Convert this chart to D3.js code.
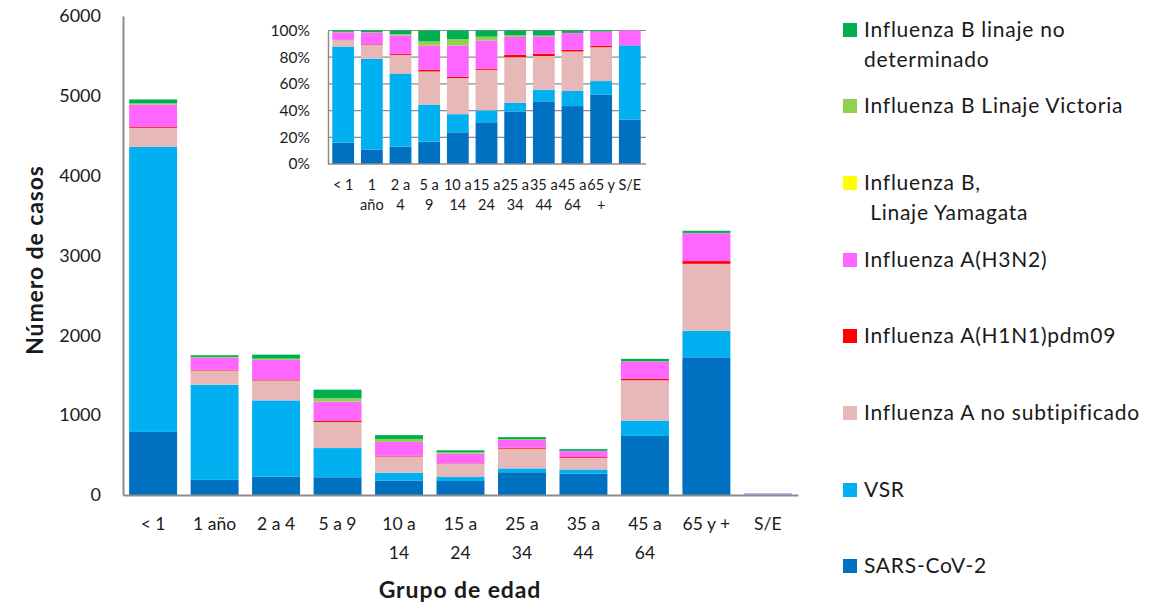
<!DOCTYPE html>
<html>
<head>
<meta charset="utf-8">
<script src="https://cdn.jsdelivr.net/npm/d3@7"></script>
<style>
  html, body { margin: 0; padding: 0; background: #fff; }
  svg { display: block; font-family: Lato, "Liberation Sans", sans-serif; }
</style>
</head>
<body>
<svg id="chart" width="1150" height="603"></svg>
<script>
// Age groups (two-line labels split on "|")
const categories = ["< 1", "1 año", "2 a 4", "5 a 9", "10 a|14", "15 a|24", "25 a|34", "35 a|44", "45 a|64", "65 y +", "S/E"];
const insetLabels = ["< 1", "1|año", "2 a|4", "5 a|9", "10 a|14", "15 a|24", "25 a|34", "35 a|44", "45 a|64", "65 y|+", "S/E"];

// Cases per age group, one array per virus (stack order bottom → top)
const sarsCov2   = [790, 190, 230, 222, 178, 175, 285, 270, 740, 1725, 3];
const vsr        = [3570, 1190, 955, 366, 102, 50, 48, 50, 192, 331, 5];
const fluANoSub  = [240, 180, 250, 327, 203, 170, 247, 145, 505, 840, 0];
const fluAH1N1   = [10, 8, 12, 18, 7, 4, 13, 10, 21, 34, 0];
const fluAH3N2   = [280, 154, 246, 237, 176, 119, 97, 75, 214, 350, 1];
const fluBYam    = [0, 0, 0, 0, 0, 0, 0, 0, 0, 0, 0];
const fluBVic    = [15, 6, 15, 42, 36, 16, 10, 3, 2, 3, 0];
const fluBNoDet  = [50, 22, 50, 108, 48, 26, 25, 22, 31, 27, 0];

const yTicks = [0, 1000, 2000, 3000, 4000, 5000, 6000];
const pctTicks = [0, 0.2, 0.4, 0.6, 0.8, 1];

const series = [
  { key: "SARS-CoV-2", values: sarsCov2, color: "#0070C0" },
  { key: "VSR", values: vsr, color: "#00B0F0" },
  { key: "Influenza A no subtipificado", values: fluANoSub, color: "#E6B9B8" },
  { key: "Influenza A(H1N1)pdm09", values: fluAH1N1, color: "#FF0000" },
  { key: "Influenza A(H3N2)", values: fluAH3N2, color: "#FF66FF" },
  { key: "Influenza B, Linaje Yamagata", values: fluBYam, color: "#FFFF00" },
  { key: "Influenza B Linaje Victoria", values: fluBVic, color: "#92D050" },
  { key: "Influenza B linaje no determinado", values: fluBNoDet, color: "#00B050" }
];

// Legend lines (top → bottom), with the wrapping used in the key
const legendLines = [
  { key: "Influenza B linaje no determinado", lines: ["Influenza B linaje no", "determinado"] },
  { key: "Influenza B Linaje Victoria", lines: ["Influenza B Linaje Victoria"] },
  { key: "Influenza B, Linaje Yamagata", lines: ["Influenza B,", "\u00a0Linaje Yamagata"] },
  { key: "Influenza A(H3N2)", lines: ["Influenza A(H3N2)"] },
  { key: "Influenza A(H1N1)pdm09", lines: ["Influenza A(H1N1)pdm09"] },
  { key: "Influenza A no subtipificado", lines: ["Influenza A no subtipificado"] },
  { key: "VSR", lines: ["VSR"] },
  { key: "SARS-CoV-2", lines: ["SARS-CoV-2"] }
];

const rows = categories.map((c, i) => {
  const r = { cat: c };
  series.forEach(s => r[s.key] = s.values[i]);
  return r;
});
const keys = series.map(s => s.key);
const color = d3.scaleOrdinal().domain(keys).range(series.map(s => s.color));

const svg = d3.select("#chart");
const textColor = "#1a1a1a";
const axisColor = "#8c8c8c";

// ---------- Main stacked bar chart ----------
const x = d3.scaleBand().domain(categories).range([123, 798]).paddingInner(0.22).paddingOuter(0.1);
const y = d3.scaleLinear().domain([0, 6000]).range([495, 16]);

const stacked = d3.stack().keys(keys)(rows);

const main = svg.append("g");
main.selectAll("g.layer").data(stacked).join("g")
  .attr("class", "layer")
  .attr("fill", d => color(d.key))
  .selectAll("rect").data(d => d).join("rect")
  .attr("x", d => x(d.data.cat))
  .attr("width", x.bandwidth())
  .attr("y", d => y(d[1]))
  .attr("height", d => Math.max(0, y(d[0]) - y(d[1])));

// S/E bar is tiny; give it a visible sliver
main.append("rect")
  .attr("x", x("S/E"))
  .attr("width", x.bandwidth())
  .attr("y", y(0) - 2)
  .attr("height", 2)
  .attr("fill", "#c9a8f0");

const yAxis = d3.axisLeft(y).tickValues(yTicks).tickSize(0).tickPadding(22).tickFormat(d3.format("d"));
const gy = main.append("g").attr("transform", "translate(123,0)").call(yAxis);
gy.select(".domain").attr("stroke", axisColor).attr("stroke-width", 2);
gy.selectAll("text").attr("font-size", 18).attr("fill", textColor).attr("font-family", "Lato, sans-serif");

const xAxis = d3.axisBottom(x).tickSize(0).tickFormat("");
const gx = main.append("g").attr("transform", "translate(0,495)").call(xAxis);
gx.select(".domain").attr("stroke", axisColor).attr("stroke-width", 2);

main.append("g").selectAll("text").data(categories).join("text")
  .attr("x", d => x(d) + x.bandwidth() / 2)
  .attr("y", 530)
  .attr("text-anchor", "middle")
  .attr("font-size", 17.5)
  .attr("fill", textColor)
  .each(function(d) {
    const parts = d.split("|");
    d3.select(this).selectAll("tspan").data(parts).join("tspan")
      .attr("x", x(d) + x.bandwidth() / 2)
      .attr("dy", (p, i) => i === 0 ? 0 : 29)
      .text(p => p);
  });

svg.append("text")
  .attr("x", 460).attr("y", 598)
  .attr("text-anchor", "middle")
  .attr("font-size", 23).attr("font-weight", "bold").attr("fill", textColor)
  .attr("letter-spacing", 0.9)
  .text("Grupo de edad");

svg.append("text")
  .attr("transform", "translate(43,260) rotate(-90)")
  .attr("text-anchor", "middle")
  .attr("font-size", 23).attr("font-weight", "bold").attr("fill", textColor)
  .attr("letter-spacing", 0.9)
  .text("Número de casos");

// ---------- Inset: 100% stacked bars ----------
const xi = d3.scaleBand().domain(categories).range([328, 645]).paddingInner(0.24).paddingOuter(0.15);
const yi = d3.scaleLinear().domain([0, 1]).range([164, 30.5]);

const inset = svg.append("g");
inset.append("rect").attr("x", 328).attr("y", 30).attr("width", 317).attr("height", 134).attr("fill", "#fff");

inset.append("g").selectAll("line").data(pctTicks.slice(1)).join("line")
  .attr("x1", 328).attr("x2", 646)
  .attr("y1", d => yi(d)).attr("y2", d => yi(d))
  .attr("stroke", "#8c8c8c").attr("stroke-width", 1.2);

const pctStacked = d3.stack().keys(keys).offset(d3.stackOffsetExpand)(rows);
inset.selectAll("g.layer").data(pctStacked).join("g")
  .attr("class", "layer")
  .attr("fill", d => color(d.key))
  .selectAll("rect").data(d => d).join("rect")
  .attr("x", d => xi(d.data.cat))
  .attr("width", xi.bandwidth())
  .attr("y", d => yi(d[1]))
  .attr("height", d => Math.max(0, yi(d[0]) - yi(d[1])));

const yiAxis = d3.axisLeft(yi).tickValues(pctTicks).tickSize(0).tickPadding(18).tickFormat(d3.format(".0%"));
const giy = inset.append("g").attr("transform", "translate(328,0)").call(yiAxis);
giy.select(".domain").attr("stroke", axisColor).attr("stroke-width", 1.5);
giy.selectAll("text").attr("font-size", 15.5).attr("fill", textColor).attr("font-family", "Lato, sans-serif");

inset.append("line").attr("x1", 328).attr("x2", 646).attr("y1", 164).attr("y2", 164)
  .attr("stroke", axisColor).attr("stroke-width", 1.5);

inset.append("g").selectAll("text").data(categories).join("text")
  .attr("y", 190)
  .attr("text-anchor", "middle")
  .attr("font-size", 14.5)
  .attr("fill", textColor)
  .each(function(d, i) {
    const cx = xi(d) + xi.bandwidth() / 2;
    const parts = insetLabels[i].split("|");
    d3.select(this).selectAll("tspan").data(parts).join("tspan")
      .attr("x", cx)
      .attr("dy", (p, j) => j === 0 ? 0 : 20)
      .text(p => p);
  });

// ---------- Legend ----------
const legend = svg.append("g");
const baselines = [37, 113, 190, 267, 343, 420, 497, 573];
legendLines.forEach((item, i) => {
  const g = legend.append("g");
  g.append("rect")
    .attr("x", 843).attr("y", baselines[i] - 14)
    .attr("width", 14).attr("height", 14)
    .attr("fill", color(item.key));
  item.lines.forEach((line, j) => {
    g.append("text")
      .attr("x", 864).attr("y", baselines[i] + j * 30)
      .attr("font-size", 21).attr("fill", textColor)
      .attr("letter-spacing", 0.75)
      .text(line);
  });
});
</script>
</body>
</html>
